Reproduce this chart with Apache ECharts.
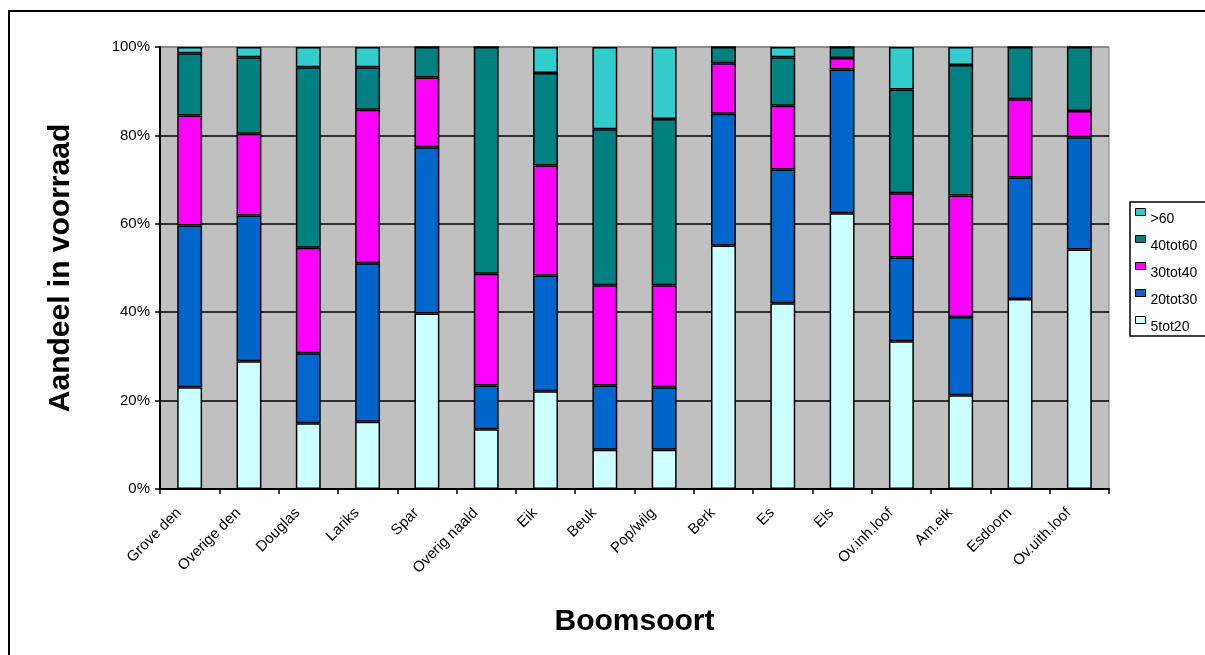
<!DOCTYPE html>
<html>
<head>
<meta charset="utf-8">
<script src="https://cdn.jsdelivr.net/npm/echarts@6/dist/echarts.min.js"></script>
<style>
  html, body { margin: 0; padding: 0; background: #ffffff; }
  #chart { width: 1205px; height: 655px; }
</style>
</head>
<body>
<div id="chart"></div>
<script>
// Tree species along the x axis
const categories = ['Grove den', 'Overige den', 'Douglas', 'Lariks', 'Spar', 'Overig naald',
  'Eik', 'Beuk', 'Pop/wilg', 'Berk', 'Es', 'Els', 'Ov.inh.loof', 'Am.eik', 'Esdoorn', 'Ov.uith.loof'];

// Share of stock (%) per diameter class, per species
const d5tot20  = [23.0, 28.9, 14.9, 15.2, 39.7, 13.5, 22.1,  8.9,  8.9, 55.1, 42.0, 62.4, 33.4, 21.2, 43.0, 54.2];
const d20tot30 = [36.6, 33.0, 15.8, 35.9, 37.6,  9.9, 26.2, 14.5, 14.1, 29.8, 30.3, 32.5, 19.0, 17.7, 27.5, 25.4];
const d30tot40 = [24.9, 18.5, 23.9, 34.7, 15.8, 25.3, 24.9, 22.7, 23.1, 11.4, 14.4,  2.6, 14.5, 27.5, 17.7,  5.9];
const d40tot60 = [14.1, 17.3, 40.8,  9.6,  6.9, 51.3, 20.9, 35.3, 37.6,  3.7, 11.0,  2.5, 23.5, 29.5, 11.8, 14.5];
const d60plus  = [ 1.4,  2.3,  4.6,  4.6,  0.0,  0.0,  5.9, 18.6, 16.3,  0.0,  2.3,  0.0,  9.6,  4.1,  0.0,  0.0];

const yTicks = [0, 20, 40, 60, 80, 100];

const classes = [
  { name: '5tot20',  data: d5tot20,  color: '#CCFFFF' },
  { name: '20tot30', data: d20tot30, color: '#0066CC' },
  { name: '30tot40', data: d30tot40, color: '#FF00FF' },
  { name: '40tot60', data: d40tot60, color: '#008080' },
  { name: '>60',     data: d60plus,  color: '#33CCCC' }
];

const font = 'Arial, "Liberation Sans", Helvetica, sans-serif';
const chart = echarts.init(document.getElementById('chart'), null, { renderer: 'canvas' });

chart.setOption({
  animation: false,
  textStyle: { fontFamily: font },
  graphic: [
    // outer chart frame (right and bottom edges run off the canvas)
    {
      type: 'rect',
      shape: { x: 9, y: 11, width: 1300, height: 700 },
      style: { fill: 'none', stroke: '#000', lineWidth: 2 },
      silent: true
    },
    // legend frame
    {
      type: 'rect',
      shape: { x: 1130, y: 202, width: 100, height: 134 },
      style: { fill: '#fff', stroke: '#000', lineWidth: 1.5 },
      silent: true,
      z: -1
    }
  ],
  grid: {
    left: 160, right: 96, top: 47, bottom: 166,
    show: true, backgroundColor: '#C0C0C0', borderColor: '#808080', borderWidth: 1
  },
  legend: {
    orient: 'vertical',
    left: 1135, top: 198,
    padding: 0,
    data: classes.map(c => c.name).reverse(),
    icon: 'rect',
    itemWidth: 10, itemHeight: 7,
    itemGap: -1,
    formatter: name => '\n' + name,
    itemStyle: { borderColor: '#000', borderWidth: 1 },
    textStyle: { fontFamily: font, fontSize: 14, lineHeight: 14, color: '#000' }
  },
  xAxis: {
    type: 'category',
    data: categories,
    name: 'Boomsoort',
    nameLocation: 'middle',
    nameGap: 118,
    nameTextStyle: { fontFamily: font, fontSize: 30, fontWeight: 'bold', color: '#000' },
    axisLine: { lineStyle: { color: '#000', width: 2 } },
    axisTick: { show: true, length: 5, lineStyle: { color: '#000', width: 1.5 } },
    axisLabel: { rotate: 45, fontSize: 15, color: '#000', margin: 11, interval: 0, padding: [0, 15, 0, 0] }
  },
  yAxis: {
    type: 'value',
    min: yTicks[0], max: yTicks[yTicks.length - 1], interval: 20,
    name: 'Aandeel in voorraad',
    nameLocation: 'middle',
    nameGap: 84,
    nameTextStyle: { fontFamily: font, fontSize: 30, fontWeight: 'bold', color: '#000' },
    axisLine: { show: true, lineStyle: { color: '#000', width: 2 } },
    axisTick: { show: true, length: 5, lineStyle: { color: '#000', width: 1.5 } },
    axisLabel: { formatter: '{value}%', fontSize: 15, color: '#000', margin: 10 },
    splitLine: { show: true, lineStyle: { color: ['#000', '#000', '#000', '#000', '#000', '#808080'], width: 1.5 } }
  },
  series: classes.map(c => ({
    name: c.name,
    type: 'bar',
    stack: 'aandeel',
    data: c.data,
    barWidth: '42%',
    itemStyle: { color: c.color, borderColor: '#000', borderWidth: 1.5 }
  }))
});
</script>
</body>
</html>
